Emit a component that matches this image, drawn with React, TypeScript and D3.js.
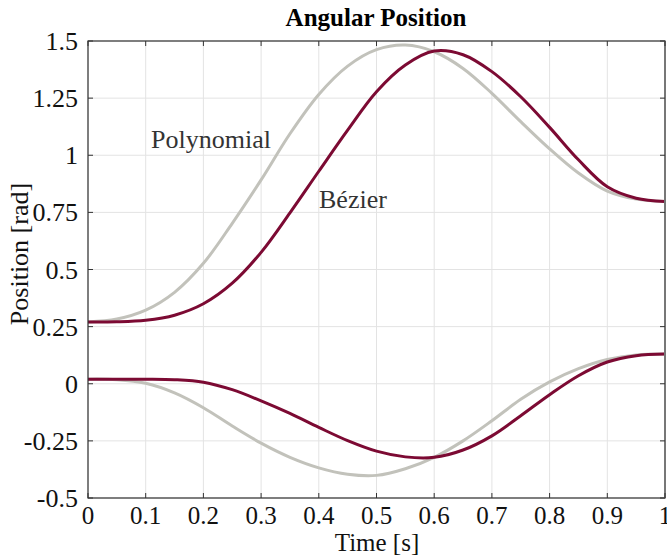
import React from "react";
import * as d3 from "d3";

const times = [0, 0.05, 0.1, 0.15, 0.2, 0.25, 0.3, 0.35, 0.4, 0.45, 0.5, 0.55, 0.6, 0.65, 0.7, 0.75, 0.8, 0.85, 0.9, 0.95, 1.0];
const polyUpper = [0.27, 0.283, 0.322, 0.4, 0.527, 0.702, 0.892, 1.094, 1.266, 1.39, 1.462, 1.482, 1.453, 1.38, 1.271, 1.147, 1.028, 0.922, 0.843, 0.808, 0.798];
const bezierUpper = [0.27, 0.271, 0.278, 0.3, 0.35, 0.44, 0.575, 0.748, 0.93, 1.11, 1.278, 1.395, 1.456, 1.44, 1.366, 1.256, 1.122, 0.98, 0.862, 0.812, 0.798];
const polyLower = [0.02, 0.018, 0.002, -0.04, -0.105, -0.185, -0.26, -0.322, -0.368, -0.396, -0.401, -0.372, -0.322, -0.25, -0.162, -0.068, 0.008, 0.066, 0.106, 0.126, 0.13];
const bezierLower = [0.02, 0.02, 0.02, 0.018, 0.007, -0.026, -0.075, -0.13, -0.191, -0.249, -0.295, -0.32, -0.322, -0.29, -0.228, -0.14, -0.048, 0.035, 0.095, 0.123, 0.13];
const xTicks = [0, 0.1, 0.2, 0.3, 0.4, 0.5, 0.6, 0.7, 0.8, 0.9, 1];
const xTickLabels = ["0", "0.1", "0.2", "0.3", "0.4", "0.5", "0.6", "0.7", "0.8", "0.9", "1"];
const yTicks = [-0.5, -0.25, 0, 0.25, 0.5, 0.75, 1, 1.25, 1.5];
const yTickLabels = ["-0.5", "-0.25", "0", "0.25", "0.5", "0.75", "1", "1.25", "1.5"];

const W = 667, H = 558;
const L = 88, R = 665, T = 41, B = 498;
const font = '"Liberation Serif", "Times New Roman", Times, serif';
const GRAY = "#c2c2bb";
const RED = "#7c0a33";
const ts = { fontFamily: font };

export default function App() {
  const x = d3.scaleLinear().domain([0, 1]).range([L, R]);
  const y = d3.scaleLinear().domain([-0.5, 1.5]).range([B, T]);
  const line = (vals: number[]) =>
    d3.line<number>().x((_, i) => x(times[i])).y((v) => y(v)).curve(d3.curveCatmullRom.alpha(0.5))(vals) || "";
  return (
    <svg width={W} height={H} style={{ position: "absolute", left: 0, top: 0, background: "#fff", fontFamily: font }}>
      {xTicks.map((t) => (
        <line key={"gx" + t} x1={x(t)} x2={x(t)} y1={T} y2={B} stroke="#e3e3e3" strokeWidth={1} />
      ))}
      {yTicks.map((t) => (
        <line key={"gy" + t} x1={L} x2={R} y1={y(t)} y2={y(t)} stroke="#e3e3e3" strokeWidth={1} />
      ))}
      <path d={line(polyUpper)} fill="none" stroke={GRAY} strokeWidth={3} />
      <path d={line(polyLower)} fill="none" stroke={GRAY} strokeWidth={3} />
      <path d={line(bezierUpper)} fill="none" stroke={RED} strokeWidth={3} />
      <path d={line(bezierLower)} fill="none" stroke={RED} strokeWidth={3} />
      <rect x={L} y={T} width={R - L} height={B - T} fill="none" stroke="#333" strokeWidth={1.2} />
      <line x1={R} x2={R} y1={T} y2={B} stroke="#777" strokeWidth={2} />
      {xTicks.map((t, i) => (
        <g key={"xt" + t}>
          <line x1={x(t)} x2={x(t)} y1={B} y2={B - 5} stroke="#333" />
          <line x1={x(t)} x2={x(t)} y1={T} y2={T + 5} stroke="#333" />
          <text x={x(t)} y={524} textAnchor="middle" fontSize={25} fill="#111" style={ts}>{xTickLabels[i]}</text>
        </g>
      ))}
      {yTicks.map((t, i) => (
        <g key={"yt" + t}>
          <line x1={L} x2={L + 5} y1={y(t)} y2={y(t)} stroke="#333" />
          <line x1={R} x2={R - 5} y1={y(t)} y2={y(t)} stroke="#333" />
          <text x={78} y={y(t) + 9} textAnchor="end" fontSize={26} fill="#111" style={ts}>{yTickLabels[i]}</text>
        </g>
      ))}
      <text x={376} y={26} textAnchor="middle" fontSize={25} fontWeight="bold" fill="#000" style={ts}>Angular Position</text>
      <text x={377} y={551} textAnchor="middle" fontSize={25} fill="#111" style={ts}>Time [s]</text>
      <text transform="translate(28, 254) rotate(-90)" textAnchor="middle" fontSize={26} fill="#111" style={ts}>Position [rad]</text>
      <text x={151} y={148} fontSize={26} fill="#333" style={ts}>Polynomial</text>
      <text x={319} y={208} fontSize={26} fill="#333" style={ts}>Bézier</text>
    </svg>
  );
}
